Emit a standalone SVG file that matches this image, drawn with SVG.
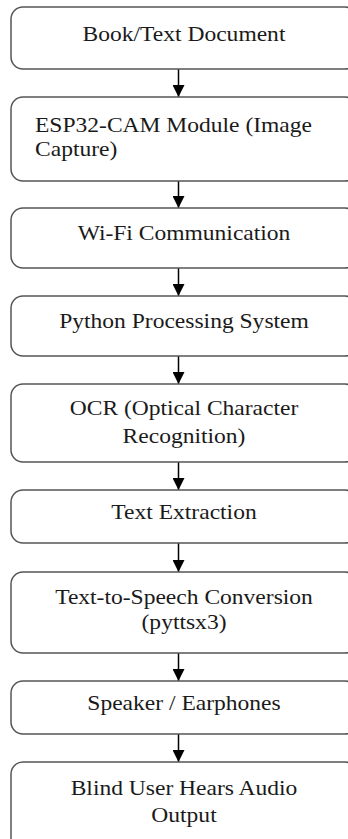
<svg xmlns="http://www.w3.org/2000/svg" width="348" height="839" viewBox="0 0 348 839">
<style>
.box{fill:#fff;stroke:#555;stroke-width:1.5}
.t{font-family:"Liberation Serif",Tinos,"Times New Roman",Times,serif;font-size:22px;fill:#1a1a1a;text-anchor:middle}
.l{text-anchor:start}
.c{stroke:#000;stroke-width:1.5;fill:none}
</style>
<defs>
<marker id="ah" markerWidth="12" markerHeight="12" refX="12" refY="6" orient="auto" markerUnits="userSpaceOnUse">
<path d="M0,0 L12,6 L0,12 Z" fill="#000"/>
</marker>
</defs>
<rect width="348" height="839" fill="#fff"/>
<g id="connectors">
<line class="c" x1="178.5" y1="69" x2="178.5" y2="97" marker-end="url(#ah)"/>
<line class="c" x1="178.5" y1="181" x2="178.5" y2="208" marker-end="url(#ah)"/>
<line class="c" x1="178.5" y1="268" x2="178.5" y2="296" marker-end="url(#ah)"/>
<line class="c" x1="178.5" y1="356" x2="178.5" y2="384" marker-end="url(#ah)"/>
<line class="c" x1="178.5" y1="462" x2="178.5" y2="490" marker-end="url(#ah)"/>
<line class="c" x1="178.5" y1="543" x2="178.5" y2="572" marker-end="url(#ah)"/>
<line class="c" x1="178.5" y1="653" x2="178.5" y2="681" marker-end="url(#ah)"/>
<line class="c" x1="178.5" y1="734" x2="178.5" y2="762" marker-end="url(#ah)"/>
</g>
<g id="n1">
<rect class="box" x="11" y="7" width="346" height="62" rx="12"/>
<text class="t" transform="translate(184 41) scale(1.07 1)">Book/Text Document</text>
</g>
<g id="n2">
<rect class="box" x="11" y="97" width="346" height="84" rx="12"/>
<text class="t l" transform="translate(35 132) scale(1.07 1)">ESP32-CAM Module (Image</text>
<text class="t l" transform="translate(35 156) scale(1.07 1)">Capture)</text>
</g>
<g id="n3">
<rect class="box" x="11" y="208" width="346" height="60" rx="12"/>
<text class="t" transform="translate(184 240) scale(1.07 1)">Wi-Fi Communication</text>
</g>
<g id="n4">
<rect class="box" x="11" y="296" width="346" height="60" rx="12"/>
<text class="t" transform="translate(184 328) scale(1.07 1)">Python Processing System</text>
</g>
<g id="n5">
<rect class="box" x="11" y="384" width="346" height="78" rx="12"/>
<text class="t" transform="translate(184 415) scale(1.07 1)">OCR (Optical Character</text>
<text class="t" transform="translate(184 443) scale(1.07 1)">Recognition)</text>
</g>
<g id="n6">
<rect class="box" x="11" y="490" width="346" height="53" rx="12"/>
<text class="t" transform="translate(184 519) scale(1.07 1)">Text Extraction</text>
</g>
<g id="n7">
<rect class="box" x="11" y="572" width="346" height="81" rx="12"/>
<text class="t" transform="translate(184 604) scale(1.07 1)">Text-to-Speech Conversion</text>
<text class="t" transform="translate(184 629) scale(1.07 1)">(pyttsx3)</text>
</g>
<g id="n8">
<rect class="box" x="11" y="681" width="346" height="53" rx="12"/>
<text class="t" transform="translate(184 710) scale(1.07 1)">Speaker / Earphones</text>
</g>
<g id="n9">
<rect class="box" x="11" y="762" width="346" height="90" rx="12"/>
<text class="t" transform="translate(184 795) scale(1.07 1)">Blind User Hears Audio</text>
<text class="t" transform="translate(184 822) scale(1.07 1)">Output</text>
</g>
</svg>
